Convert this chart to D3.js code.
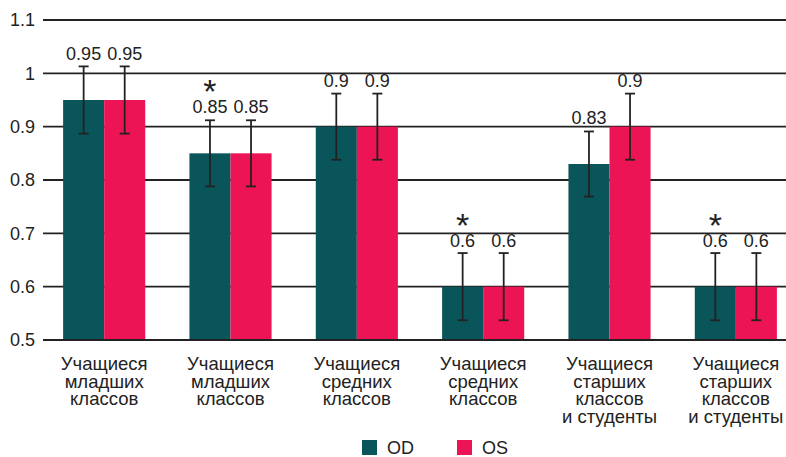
<!DOCTYPE html>
<meta charset="utf-8">
<style>
body { margin: 0; background: #fff; }
text { font-family: "Liberation Sans", Arial, sans-serif; fill: #222; }
.grid line { stroke: #222; stroke-width: 1.8; }
</style>
<body>
<script src="https://cdn.jsdelivr.net/npm/d3@7/dist/d3.min.js"></script>
<script>

var categories = [
  ["Учащиеся", "младших", "классов"],
  ["Учащиеся", "младших", "классов"],
  ["Учащиеся", "средних", "классов"],
  ["Учащиеся", "средних", "классов"],
  ["Учащиеся", "старших", "классов", "и студенты"],
  ["Учащиеся", "старших", "классов", "и студенты"]
];
var series = ["OD", "OS"];
var odValues = [0.95, 0.85, 0.9, 0.6, 0.83, 0.6];
var osValues = [0.95, 0.85, 0.9, 0.6, 0.9, 0.6];
var odErrors = [0.063, 0.062, 0.062, 0.063, 0.061, 0.063];
var osErrors = [0.063, 0.062, 0.062, 0.063, 0.062, 0.063];
var starred = [false, true, false, true, false, true];
var yTicks = [0.5, 0.6, 0.7, 0.8, 0.9, 1, 1.1];
var colors = ["#0a5559", "#ec1455"];

var width = 786, height = 457;

var svg = d3.select("body").append("svg")
  .attr("width", width)
  .attr("height", height);

var y = d3.scaleLinear().domain([0.5, 1.1]).range([340, 20]);

var x0 = d3.scaleBand()
  .domain(d3.range(categories.length))
  .range([41, 799])
  .paddingInner(0.35)
  .paddingOuter(0.175);

var x1 = d3.scaleBand()
  .domain(series)
  .range([0, x0.bandwidth()]);

// grid + y labels
var grid = svg.append("g").attr("class", "grid");
grid.selectAll("line")
  .data(yTicks)
  .enter().append("line")
  .attr("x1", 43).attr("x2", width)
  .attr("y1", function(d) { return y(d); })
  .attr("y2", function(d) { return y(d); });

svg.selectAll(".ylab")
  .data(yTicks)
  .enter().append("text")
  .attr("class", "ylab")
  .attr("x", 35)
  .attr("y", function(d) { return y(d); })
  .attr("dy", "0.36em")
  .attr("text-anchor", "end")
  .style("font-size", "18px")
  .text(function(d) { return d; });

var rows = [];
categories.forEach(function(c, i) {
  rows.push({i: i, s: "OD", v: odValues[i], e: odErrors[i], c: colors[0]});
  rows.push({i: i, s: "OS", v: osValues[i], e: osErrors[i], c: colors[1]});
});

function cx(d) { return x0(d.i) + x1(d.s) + x1.bandwidth() / 2; }

svg.selectAll(".bar")
  .data(rows)
  .enter().append("rect")
  .attr("class", "bar")
  .attr("x", function(d) { return x0(d.i) + x1(d.s); })
  .attr("width", x1.bandwidth())
  .attr("y", function(d) { return y(d.v); })
  .attr("height", function(d) { return y(0.5) - y(d.v); })
  .style("fill", function(d) { return d.c; });

// baseline on top of bars
svg.append("line")
  .attr("x1", 43).attr("x2", width)
  .attr("y1", y(0.5)).attr("y2", y(0.5))
  .style("stroke", "#222").style("stroke-width", 1.8);

// error bars
var err = svg.selectAll(".err")
  .data(rows)
  .enter().append("g")
  .attr("class", "err")
  .style("stroke", "#222")
  .style("stroke-width", 1.8);

err.append("line")
  .attr("x1", cx).attr("x2", cx)
  .attr("y1", function(d) { return y(d.v + d.e); })
  .attr("y2", function(d) { return y(d.v - d.e); });
err.append("line")
  .attr("x1", function(d) { return cx(d) - 5; })
  .attr("x2", function(d) { return cx(d) + 5; })
  .attr("y1", function(d) { return y(d.v + d.e); })
  .attr("y2", function(d) { return y(d.v + d.e); });
err.append("line")
  .attr("x1", function(d) { return cx(d) - 5; })
  .attr("x2", function(d) { return cx(d) + 5; })
  .attr("y1", function(d) { return y(d.v - d.e); })
  .attr("y2", function(d) { return y(d.v - d.e); });

// value labels
svg.selectAll(".val")
  .data(rows)
  .enter().append("text")
  .attr("class", "val")
  .attr("x", cx)
  .attr("y", function(d) { return y(d.v) - 40; })
  .attr("text-anchor", "middle")
  .style("font-size", "18px")
  .text(function(d) { return d.v; });

// stars
svg.selectAll(".star")
  .data(rows.filter(function(d) { return d.s == "OD" && starred[d.i]; }))
  .enter().append("text")
  .attr("class", "star")
  .attr("x", cx)
  .attr("y", function(d) { return y(d.v) - 50; })
  .attr("text-anchor", "middle")
  .style("font-size", "34px")
  .text("*");

// category labels
var cat = svg.selectAll(".cat")
  .data(categories)
  .enter().append("text")
  .attr("class", "cat")
  .attr("text-anchor", "middle")
  .style("font-size", "18.5px")
  .attr("transform", function(d, i) {
    return "translate(" + (x0(i) + x0.bandwidth() / 2) + ",370)";
  });
cat.selectAll("tspan")
  .data(function(d) { return d; })
  .enter().append("tspan")
  .attr("x", 0)
  .attr("y", function(d, j) { return j * 17.7; })
  .text(function(d) { return d; });

// legend
var legend = svg.selectAll(".leg")
  .data(series)
  .enter().append("g")
  .attr("class", "leg")
  .attr("transform", function(d, i) { return "translate(" + (362 + i * 95) + ",440)"; });
legend.append("rect")
  .attr("width", 15).attr("height", 15)
  .style("fill", function(d, i) { return colors[i]; });
legend.append("text")
  .attr("x", 25).attr("y", 13.5)
  .style("font-size", "18px")
  .text(function(d) { return d; });

</script>
</body>
